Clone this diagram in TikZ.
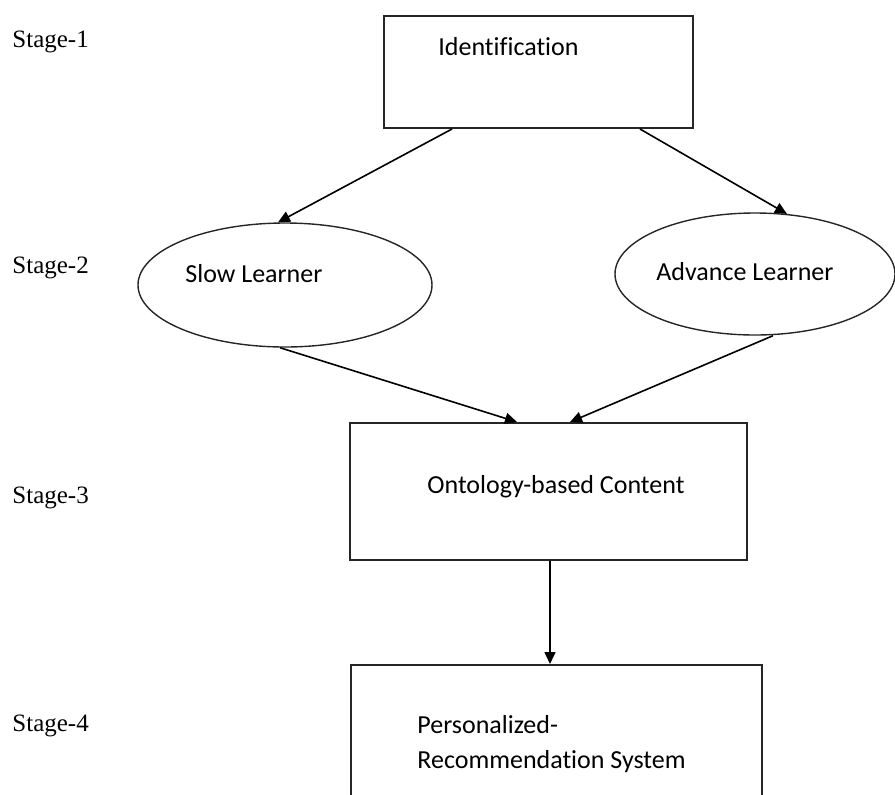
\documentclass[tikz,border=0pt]{standalone}
\usepackage{fontspec}
\setmainfont{Liberation Serif}
\newfontfamily\calfont[RawFeature={-liga;-clig}]{Carlito}
\usetikzlibrary{positioning, shapes.geometric, arrows.meta}

\begin{document}
\begin{tikzpicture}[x=0.5pt, y=-0.5pt,
  boxnode/.style={draw=black!85, line width=1pt, rectangle, inner sep=0pt},
  ovalnode/.style={draw=black!85, line width=0.7pt, ellipse, inner sep=0pt},
  lbl/.style={anchor=base west, inner sep=0pt, font=\calfont\fontsize{13}{15}\selectfont},
  stagelbl/.style={anchor=base west, inner sep=0pt, font=\fontsize{12.5}{15}\selectfont},
  arr/.style={-{Triangle[length=6pt, width=5.5pt]}, line width=0.8pt}]

\clip (0,0) rectangle (895,794); % page = 895 x 794

% stage labels
\node[stagelbl] (st1) at (12,47) {Stage-1};
\node[stagelbl] (st2) at (12,273) {Stage-2};
\node[stagelbl] (st3) at (12,503) {Stage-3};
\node[stagelbl] (st4) at (12,731) {Stage-4};

% shapes
\node[boxnode, minimum width=154.5pt, minimum height=56pt] (ident) at (538.5,72) {};
\node[ovalnode, minimum width=147pt, minimum height=62pt] (slow) at (285,285) {};
\node[ovalnode, minimum width=140pt, minimum height=61pt] (adv) at (755,274) {};
\node[boxnode, minimum width=198.5pt, minimum height=68.5pt] (onto) at (548.5,491.5) {};
\node[boxnode, minimum width=205.5pt, minimum height=82.5pt] (pers) at (556.5,747.5) {};

% texts
\node[lbl] (identtxt) at (438,55) {Identification};
\node[lbl] (slowtxt) at (185,282) {Slow Learner};
\node[lbl] (advtxt) at (656,280) {Advance Learner};
\node[lbl] (ontotxt) at (427,493) {Ontology-based Content};
\node[lbl] (perstxta) at (417,733) {Personalized-};
\node[lbl] (perstxtb) at (417,768) {Recommendation System};

% arrows
\draw[arr] ([xshift=-43.25pt]ident.south) -- ([xshift=-3.5pt]slow.north);
\draw[arr] ([xshift=50.75pt]ident.south) -- (adv.62);
\draw[arr] ([xshift=-2.5pt]slow.south) -- ([xshift=-15.75pt]onto.north);
\draw[arr] ([xshift=9pt]adv.south) -- ([xshift=10.75pt]onto.north);
\draw[arr] ([xshift=0.75pt]onto.south) -- ([xshift=0.75pt]onto.south |- pers.north);

\end{tikzpicture}
\end{document}
